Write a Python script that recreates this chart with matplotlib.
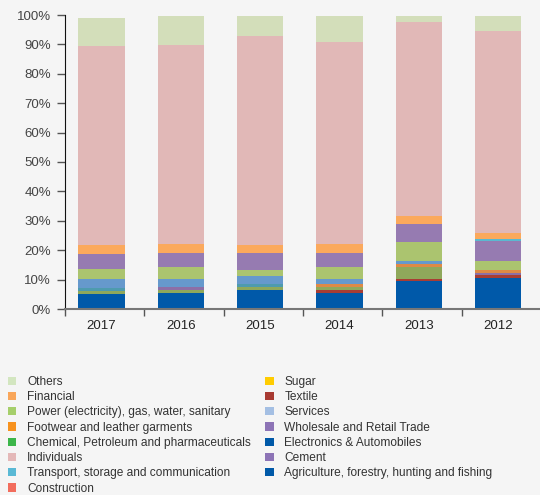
import matplotlib.pyplot as plt
from matplotlib.patches import Patch
import numpy as np

plt.rcParams['font.family'] = ['Liberation Sans', 'DejaVu Sans']

# --- Data (share of loans, %) ---
years = ['2017', '2016', '2015', '2014', '2013', '2012']

agriculture  = [5.2, 5.4, 6.5, 5.4, 9.5, 10.5]
textile      = [0.0, 0.0, 0.0, 1.0, 0.7, 1.0]
chemical     = [1.0, 1.0, 1.0, 1.0, 4.1, 0.0]
cement       = [0.0, 1.0, 0.0, 0.0, 0.0, 0.7]
footwear     = [0.0, 0.0, 0.0, 1.0, 1.0, 1.0]
construction = [1.0, 0.0, 1.0, 0.0, 0.0, 0.0]
electronics  = [0.0, 0.0, 0.0, 0.0, 0.0, 0.0]
sugar        = [0.0, 0.0, 0.0, 0.0, 0.0, 0.0]
services     = [3.0, 2.7, 2.7, 1.7, 1.0, 0.0]
power        = [3.4, 4.1, 2.0, 4.1, 6.5, 3.1]
wholesale    = [5.1, 4.8, 5.8, 4.8, 6.1, 6.8]
transport    = [0.0, 0.0, 0.0, 0.0, 0.0, 0.7]
financial    = [3.1, 3.1, 2.7, 3.1, 2.7, 2.0]
individuals  = [67.7, 67.7, 71.1, 68.7, 66.0, 68.7]
others       = [9.5, 9.9, 6.8, 8.9, 2.1, 5.1]

# stacking order, bottom to top: (label, values, bar colour)
stack = [
    ('Agriculture, forestry, hunting and fishing', agriculture, '#0059a9'),
    ('Textile', textile, '#a83d34'),
    ('Chemical, Petroleum and pharmaceuticals', chemical, '#8fa85b'),
    ('Cement', cement, '#8c6fa6'),
    ('Footwear and leather garments', footwear, '#de8a45'),
    ('Construction', construction, '#4e9bae'),
    ('Electronics & Automobiles', electronics, '#0059a9'),
    ('Sugar', sugar, '#ffcc00'),
    ('Services', services, '#6699cc'),
    ('Power (electricity), gas, water, sanitary', power, '#abc46f'),
    ('Wholesale and Retail Trade', wholesale, '#967bb1'),
    ('Transport, storage and communication', transport, '#5bb8d0'),
    ('Financial', financial, '#fba95c'),
    ('Individuals', individuals, '#e1b8b7'),
    ('Others', others, '#d3deba'),
]

# legend order (filled column by column) and legend swatch colours
legend_items = [
    ('Others', '#d3e6c0'),
    ('Financial', '#f9a65a'),
    ('Power (electricity), gas, water, sanitary', '#a6cf6b'),
    ('Footwear and leather garments', '#f7921e'),
    ('Chemical, Petroleum and pharmaceuticals', '#3cb64a'),
    ('Individuals', '#e4b8b8'),
    ('Transport, storage and communication', '#5ab9d5'),
    ('Construction', '#f26d5d'),
    ('Sugar', '#ffcc00'),
    ('Textile', '#a83a32'),
    ('Services', '#a4bfe3'),
    ('Wholesale and Retail Trade', '#8d74b6'),
    ('Electronics & Automobiles', '#0059a8'),
    ('Cement', '#8d74b6'),
    ('Agriculture, forestry, hunting and fishing', '#0059a8'),
]

bg = '#f5f5f5'
fig = plt.figure(figsize=(5.4, 4.95), dpi=100, facecolor=bg)
ax = fig.add_axes([65 / 540, 1 - 309 / 495, 476 / 540, 294 / 495], facecolor=bg)

x = np.arange(len(years))
bottom = np.zeros(len(years))
for label, vals, color in stack:
    vals = np.array(vals)
    ax.bar(x - 0.04, vals, width=0.58, bottom=bottom, color=color, linewidth=0)
    bottom += vals

ax.set_xlim(-0.5, len(years) - 0.5)
ax.set_ylim(0, 100)

ax.set_yticks(np.arange(0, 101, 10))
ax.set_yticklabels([f'{v}%' for v in range(0, 101, 10)])
ax.set_xticks(x - 0.04)
ax.set_xticklabels(years)
ax.set_xticks(np.arange(-0.5, len(years), 1), minor=True)
ax.tick_params(axis='x', which='major', length=0, pad=8, labelsize=9.5, labelcolor='#222222')
ax.tick_params(axis='x', which='minor', length=5, width=1, color='#555555')
ax.tick_params(axis='y', length=6, width=1, color='#555555', pad=4, labelsize=9.5, labelcolor='#444444')

for s in ['top', 'right']:
    ax.spines[s].set_visible(False)
ax.spines['left'].set_color('#111111')
ax.spines['bottom'].set_color('#777777')
ax.spines['bottom'].set_linewidth(1.5)

handles = [Patch(facecolor=c, edgecolor='none') for _, c in legend_items]
labels = [l for l, _ in legend_items]
fig.legend(handles, labels, loc='upper left', bbox_to_anchor=(8 / 540, 1 - 376 / 495),
           ncol=2, frameon=False, fontsize=8.6, labelcolor='#333333',
           handlelength=0.7, handleheight=0.7, handletextpad=0.9,
           labelspacing=0.27, columnspacing=1.2, borderaxespad=0, borderpad=0)

fig.savefig('out.png', dpi=100, facecolor=bg)
